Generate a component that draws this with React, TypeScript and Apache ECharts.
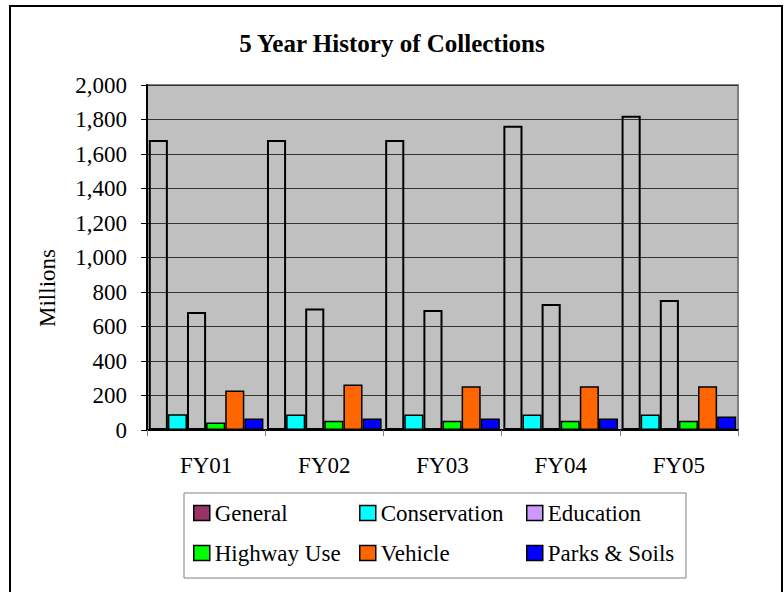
import React, { useEffect, useRef } from "react";
import * as echarts from "echarts";

const categories = ["FY01", "FY02", "FY03", "FY04", "FY05"];
const seriesNames = ["General", "Conservation", "Education", "Highway Use", "Vehicle", "Parks & Soils"];
const general = [1681, 1681, 1681, 1764, 1822];
const conservation = [92, 90, 90, 90, 90];
const education = [684, 705, 696, 730, 754];
const highwayUse = [44, 53, 53, 53, 53];
const vehicle = [229, 264, 253, 253, 253];
const parksSoils = [67, 67, 67, 67, 78];
const yTicks = { min: 0, max: 2000, interval: 200 };

const colors = ["#993366", "#00ffff", "#cc99ff", "#00ff00", "#ff6600", "#0000ff"];
const hollow = [true, false, true, false, false, false];
const values = [general, conservation, education, highwayUse, vehicle, parksSoils];

const FONT = "Liberation Serif";

// legend layout: [left, top]
const legendPos: [number, number][] = [
  [193, 501],
  [359, 501],
  [526, 501],
  [193, 541],
  [359, 541],
  [526, 541],
];

export default function App() {
  const ref = useRef<HTMLDivElement>(null);
  useEffect(() => {
    if (!ref.current) return;
    const chart = echarts.init(ref.current, null, { renderer: "svg" });
    const option: any = {
      animation: false,
      backgroundColor: "#ffffff",
      textStyle: { fontFamily: FONT },
      title: {
        text: "5 Year History of Collections",
        left: "center",
        top: 31,
        padding: 0,
        textStyle: { fontFamily: FONT, fontWeight: "bold", fontSize: 25, color: "#000" },
      },
      grid: {
        left: 147,
        right: 46,
        top: 85,
        bottom: 162,
        show: true,
        backgroundColor: "#c0c0c0",
        borderColor: "#808080",
        borderWidth: 2,
      },
      legend: seriesNames.map((n, i) => ({
        data: [{ name: n, itemStyle: { color: colors[i], borderColor: "#000", borderWidth: 1.5 } }],
        left: legendPos[i][0],
        top: legendPos[i][1],
        padding: 0,
        icon: "rect",
        itemWidth: 16,
        itemHeight: 15,
        selectedMode: false,
        textStyle: { fontFamily: FONT, fontSize: 23, color: "#000", lineHeight: 24 },
      })),
      xAxis: {
        type: "category",
        data: categories,
        axisLine: { lineStyle: { color: "#000", width: 2 } },
        axisTick: { show: true, length: 6, lineStyle: { color: "#808080", width: 1 } },
        axisLabel: { fontFamily: FONT, fontSize: 23, color: "#000", margin: 24 },
      },
      yAxis: {
        type: "value",
        min: yTicks.min,
        max: yTicks.max,
        interval: yTicks.interval,
        axisLine: { show: true, lineStyle: { color: "#000", width: 2 } },
        axisTick: { show: true, length: 6, lineStyle: { color: "#000", width: 1 } },
        axisLabel: {
          fontFamily: FONT,
          fontSize: 23,
          color: "#000",
          margin: 20,
          formatter: (v: number) => v.toLocaleString("en-US"),
        },
        splitLine: { show: true, lineStyle: { color: "#333333", width: 1 } },
      },
      series: seriesNames.map((n, i) => ({
        name: n,
        type: "bar",
        data: values[i],
        barGap: "0%",
        barCategoryGap: "3%",
        itemStyle: {
          color: hollow[i] ? "transparent" : colors[i],
          borderColor: "#000",
          borderWidth: hollow[i] ? 2 : 1.5,
        },
      })),
      graphic: [
        {
          type: "rect",
          shape: { x: 10, y: 6, width: 772, height: 620 },
          style: { fill: "none", stroke: "#000", lineWidth: 2 },
          silent: true,
          z: 100,
        },
        {
          type: "rect",
          shape: { x: 184, y: 493, width: 502, height: 85 },
          style: { fill: "none", stroke: "#808080", lineWidth: 1 },
          silent: true,
          z: 100,
        },
        {
          type: "text",
          x: 47,
          y: 288,
          rotation: Math.PI / 2,
          style: {
            text: "Millions",
            font: "23px 'Liberation Serif'",
            fill: "#000",
            align: "center",
            verticalAlign: "middle",
          },
          silent: true,
        },
      ],
    };
    chart.setOption(option);
    return () => chart.dispose();
  }, []);
  return (
    <div
      ref={ref}
      style={{ position: "absolute", left: 0, top: 0, width: 784, height: 592 }}
    />
  );
}
